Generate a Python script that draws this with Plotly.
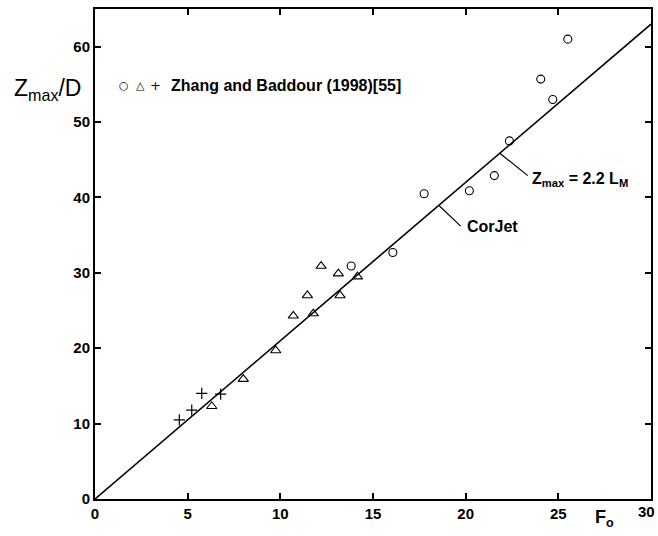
import plotly.graph_objects as go

# Data
circ_x = [13.82, 16.07, 17.76, 20.20, 21.55, 22.36, 24.05, 24.70, 25.51]
circ_y = [30.9, 32.7, 40.5, 40.9, 42.9, 47.5, 55.7, 53.0, 61.0]
tri_x = [6.30, 8.00, 9.75, 10.70, 11.78, 11.46, 13.22, 12.20, 13.13, 14.16]
tri_y = [12.3, 15.9, 19.7, 24.3, 24.6, 27.0, 27.0, 30.9, 29.9, 29.5]
plus_x = [4.55, 5.22, 5.76, 6.78]
plus_y = [10.5, 11.8, 14.0, 13.9]
fit_x = [0, 30]
fit_y = [0, 63]

x_ticks = [0, 5, 10, 15, 20, 25, 30]
y_ticks = [0, 10, 20, 30, 40, 50, 60]

FONT = "Liberation Sans, Arial, sans-serif"

fig = go.Figure()
fig.add_trace(go.Scatter(x=fit_x, y=fit_y, mode="lines",
                         line=dict(color="black", width=1.6), showlegend=False))
fig.add_trace(go.Scatter(x=circ_x, y=circ_y, mode="markers",
                         marker=dict(symbol="circle-open", size=8, color="black",
                                     line=dict(width=1.1)), showlegend=False))
fig.add_trace(go.Scatter(x=tri_x, y=tri_y, mode="markers",
                         marker=dict(symbol="triangle-up-open", size=9, color="black",
                                     line=dict(width=1.1)), showlegend=False))
fig.add_trace(go.Scatter(x=plus_x, y=plus_y, mode="markers",
                         marker=dict(symbol="cross-thin-open", size=8, color="black",
                                     line=dict(width=1.2)), showlegend=False))

tick_font = dict(family=FONT, size=15, color="black", weight="bold")
axis_common = dict(showline=True, mirror="ticks", linewidth=2, linecolor="black",
                   ticks="inside", ticklen=6, tickwidth=1.5, tickcolor="black",
                   showgrid=False, zeroline=False, automargin=False,
                   tickfont=tick_font)
fig.update_xaxes(range=[0, 30], tickvals=x_ticks, **axis_common)
fig.update_yaxes(range=[0, 65], tickvals=y_ticks, **axis_common)

annotations = [
    dict(x=3.99, y=54.9, xref="x", yref="y", text="Zhang and Baddour (1998)[55]",
         showarrow=False, xanchor="left", yanchor="middle",
         font=dict(family=FONT, size=16, color="black", weight="bold")),
    dict(x=1.56, y=54.9, xref="x", yref="y", text="○", showarrow=False,
         xanchor="center", yanchor="middle", font=dict(family="DejaVu Sans", size=11, color="black")),
    dict(x=2.43, y=54.9, xref="x", yref="y", text="△", showarrow=False,
         xanchor="center", yanchor="middle", font=dict(family="DejaVu Sans", size=11, color="black")),
    dict(x=3.24, y=54.9, xref="x", yref="y", text="+", showarrow=False,
         xanchor="center", yanchor="middle", font=dict(family="DejaVu Sans", size=13, color="black")),
    dict(x=19.97, y=36.1, xref="x", yref="y", text="CorJet", showarrow=False,
         xanchor="left", yanchor="middle",
         font=dict(family=FONT, size=16, color="black", weight="bold")),
    dict(x=23.47, y=42.4, xref="x", yref="y", text="Z<sub>max</sub> = 2.2 L<sub>M</sub>",
         showarrow=False, xanchor="left", yanchor="middle",
         font=dict(family=FONT, size=16, color="black", weight="bold")),
    dict(x=-0.149, y=0.835, xref="paper", yref="paper", text="Z<sub>max</sub>/D",
         showarrow=False, xanchor="left", yanchor="middle",
         font=dict(family=FONT, size=23, color="black")),
    dict(x=0.8957, y=-0.012, xref="paper", yref="paper", text="F<sub>o</sub>",
         showarrow=False, xanchor="left", yanchor="top",
         font=dict(family=FONT, size=18, color="black", weight="bold")),
    dict(x=1.0105, y=-0.0265, xref="paper", yref="paper", text="30",
         showarrow=False, xanchor="right", yanchor="middle", font=tick_font),
]

shapes = [
    dict(type="line", xref="x", yref="y", x0=21.82, y0=45.9, x1=23.35, y1=42.9,
         line=dict(color="black", width=1.2)),
    dict(type="line", xref="x", yref="y", x0=18.53, y0=39.0, x1=19.73, y1=36.2,
         line=dict(color="black", width=1.2)),
]

fig.update_layout(width=658, height=536, margin=dict(l=95, r=7, t=9, b=37),
                  plot_bgcolor="white", paper_bgcolor="white",
                  annotations=annotations, shapes=shapes, showlegend=False)

fig.write_html("out.html")
